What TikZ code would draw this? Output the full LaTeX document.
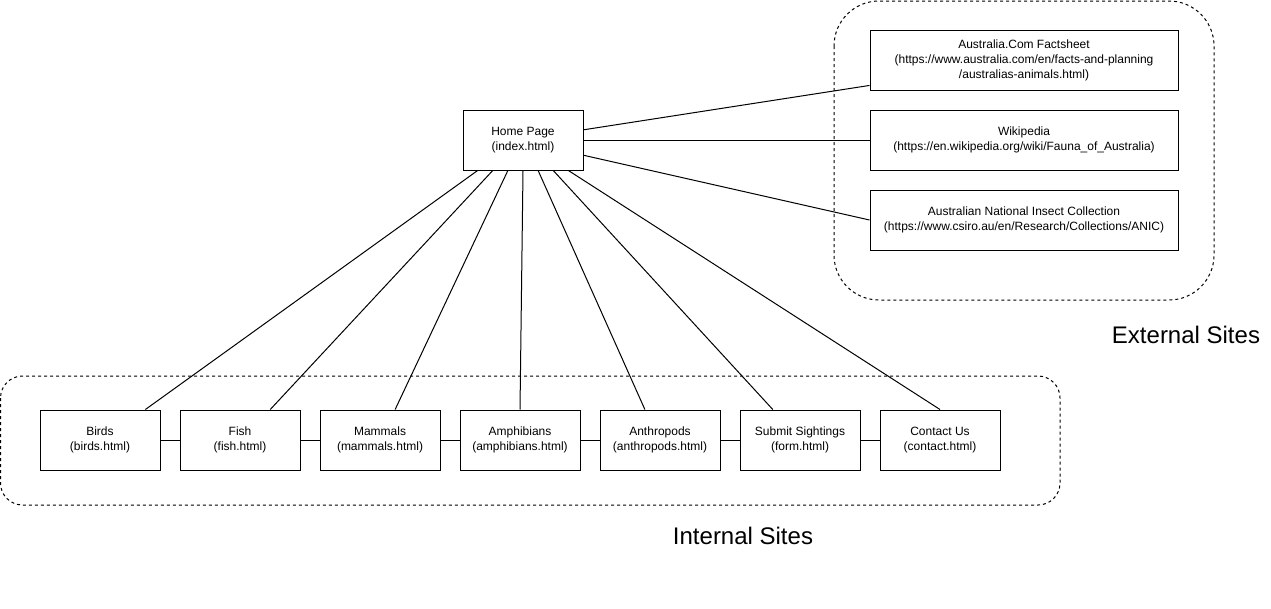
\documentclass[tikz,border=0pt]{standalone}
\usepackage{fontspec}
\setmainfont{Liberation Sans}
\usetikzlibrary{positioning,calc}

\begin{document}
\begin{tikzpicture}[x=1pt,y=-1pt,
  page/.style={draw,rectangle,minimum width=120pt,minimum height=60pt,inner sep=0pt,align=center,font=\fontsize{12}{15}\selectfont,line width=1pt},
  extpage/.style={page,minimum width=308pt},
  group/.style={draw,dash pattern=on 3pt off 3pt,line width=1pt},
  grouplabel/.style={anchor=base,font=\fontsize{24}{28}\selectfont},
  link/.style={line width=1pt}]
\useasboundingbox (0,0) rectangle (1271,608);

% Draw the dashed groups
\draw[group,rounded corners=45pt] (834,1) rectangle (1214,300);
\draw[group,rounded corners=22pt] (0.5,376) rectangle (1060,505);

% Define the pages
\node[page] (home) at (523,140) {Home Page\\(index.html)};
\node[extpage] (ext1) at (1024,60) {Australia.Com Factsheet\\(https://www.australia.com/en/facts-and-planning\\/australias-animals.html)};
\node[extpage] (ext2) at (1024,140) {Wikipedia\\(https://en.wikipedia.org/wiki/Fauna\_of\_Australia)};
\node[extpage] (ext3) at (1024,220) {Australian National Insect Collection\\(https://www.csiro.au/en/Research/Collections/ANIC)};
\foreach \i/\name/\file in {1/Birds/birds,2/Fish/fish,3/Mammals/mammals,4/Amphibians/amphibians,5/Anthropods/anthropods,6/Submit Sightings/form,7/Contact Us/contact}
    \node[page] (int\i) at ({100+140*(\i-1)},440) {\name\\(\file.html)};

% Draw the links
\draw[link] ($(home.north east)!0.333!(home.south east)$) -- ($(ext1.north west)!0.917!(ext1.south west)$);
\draw[link] (home.east) -- (ext2.west);
\draw[link] ($(home.north east)!0.75!(home.south east)$) -- (ext3.west);
\foreach \i/\s/\f in {1/0.125/0.875,2/0.25/0.75,3/0.375/0.625,4/0.5/0.5,5/0.625/0.375,6/0.75/0.275,7/0.875/0.5}
    \draw[link] ($(home.south west)!\s!(home.south east)$) -- ($(int\i.north west)!\f!(int\i.north east)$);
\foreach \i/\j in {1/2,2/3,3/4,4/5,5/6,6/7}
    \draw[link] (int\i) -- (int\j);

% Group labels
\node[grouplabel] (extlabel) at (1186,343) {External Sites};
\node[grouplabel] (intlabel) at (743,544) {Internal Sites};
\end{tikzpicture}
\end{document}
